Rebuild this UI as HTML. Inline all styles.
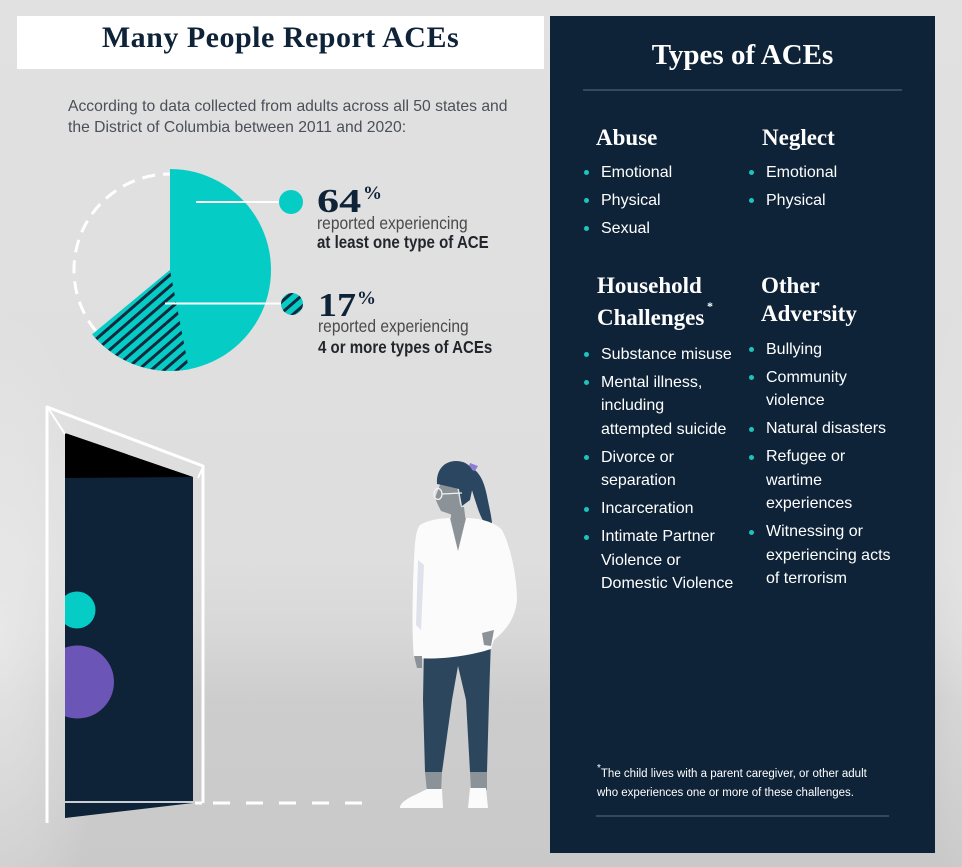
<!DOCTYPE html>
<html>
<head>
<meta charset="utf-8">
<style>
  html, body { margin:0; padding:0; }
  body {
    width:962px; height:867px; overflow:hidden; position:relative;
    background: linear-gradient(to bottom, #e1e1e1 0px, #dedede 560px, #d8d8d8 630px, #cdcdcd 700px, #c9c9c9 867px);
    font-family: "Liberation Sans", Arial, sans-serif;
  }
  .abs { position:absolute; white-space:nowrap; }
  .serif { font-family: "Liberation Serif", "Times New Roman", serif; font-weight:bold; }
  #titlebox { left:17px; top:16px; width:527px; height:53px; background:#ffffff; }
  #title { left:17px; width:527px; top:22.9px; text-align:center; font-size:30px; line-height:1; color:#0e2338; letter-spacing:0.5px; }
  #desc { left:68px; top:95.5px; font-size:15.7px; line-height:21.5px; color:#4a4f58; }
  .num { font-size:34px; line-height:1; color:#0e2338; transform-origin:0 0; }
  .pct { font-size:19px; line-height:1; color:#0e2338; }
  .rep { font-size:17.5px; line-height:1; color:#4a4a4a; transform:scaleX(0.89); transform-origin:0 0; }
  .bold { font-size:17.5px; line-height:1; color:#22262b; font-weight:bold; transform:scaleX(0.86); transform-origin:0 0; }
  #panel { left:550px; top:16px; width:385px; height:837px; background:#0f2338; }
  #ptitle { left:550px; width:385px; top:40.7px; text-align:center; font-size:29px; line-height:1; color:#ffffff; }
  .sep { position:absolute; height:2px; background:#34495f; }
  .h { font-size:23px; line-height:1; color:#ffffff; }
  ul.l { position:absolute; margin:0; padding:0; list-style:none; color:#ffffff; font-size:16px; line-height:23.5px; white-space:nowrap; }
  ul.l li { position:relative; margin:0 0 4.5px 0; padding:0; }
  ul.l li::before { content:""; position:absolute; left:-17.5px; top:9.8px; width:5px; height:5px; border-radius:50%; background:#1cc4bc; }
  #foot { left:597px; top:764.5px; font-size:11.5px; line-height:19px; color:#ffffff; }
  #foot sup { font-size:10px; vertical-align:top; line-height:1; position:relative; top:-1px; }
</style>
</head>
<body>

<!-- background texture hints (soft) -->
<svg class="abs" style="left:0;top:0" width="962" height="867">
  <defs>
    <radialGradient id="rg" cx="0" cy="640" r="1" gradientUnits="userSpaceOnUse" gradientTransform="translate(0,640) scale(110,330) translate(0,-640)">
      <stop offset="0" stop-color="#ededed" stop-opacity="0.75"/>
      <stop offset="1" stop-color="#ededed" stop-opacity="0"/>
    </radialGradient>
    <radialGradient id="rg2" cx="962" cy="600" r="1" gradientUnits="userSpaceOnUse" gradientTransform="translate(962,600) scale(40,300) translate(-962,-600)">
      <stop offset="0" stop-color="#e8e8e8" stop-opacity="0.5"/>
      <stop offset="1" stop-color="#e8e8e8" stop-opacity="0"/>
    </radialGradient>
  </defs>
  <rect x="0" y="0" width="962" height="867" fill="url(#rg)"/>
  <rect x="0" y="0" width="962" height="867" fill="url(#rg2)"/>
</svg>

<div id="titlebox" class="abs"></div>
<div id="title" class="abs serif">Many People Report ACEs</div>

<div id="desc" class="abs">According to data collected from adults across all 50 states and<br>the District of Columbia between 2011 and 2020:</div>

<!-- Pie chart -->
<svg class="abs" style="left:0;top:0" width="550" height="420">
  <defs>
    <pattern id="stripes" patternUnits="userSpaceOnUse" width="8.5" height="10" patternTransform="rotate(49)">
      <rect x="0" y="0" width="8.5" height="10" fill="#05cdc5"/>
      <rect x="3" y="0" width="3" height="10" fill="#13293f"/>
    </pattern>
  </defs>
  <path d="M96,331.2 A96,96 0 0 1 170,174" fill="none" stroke="#ffffff" stroke-width="3" stroke-dasharray="13 8"/>
  <path d="M170,270 L170,169 A101,101 0 1 1 92.2,334.4 Z" fill="#05cdc5"/>
  <path d="M170,270 L188.9,369.2 A101,101 0 0 1 92.2,334.4 Z" fill="url(#stripes)"/>
  <line x1="196" y1="202" x2="280" y2="202" stroke="#ffffff" stroke-width="2"/>
  <line x1="165" y1="303.5" x2="282" y2="303.5" stroke="#ffffff" stroke-width="2"/>
  <circle cx="291" cy="202" r="12" fill="#05cdc5"/>
  <circle cx="292" cy="304" r="11" fill="url(#stripes)"/>
</svg>

<div class="abs serif num" style="left:317px; top:184.5px; transform:scaleX(1.3);">64</div>
<div class="abs serif pct" style="left:363px; top:184.1px;">%</div>
<div class="abs rep" style="left:317px; top:215.2px;">reported experiencing</div>
<div class="abs bold" style="left:317px; top:234.2px;">at least one type of ACE</div>

<div class="abs serif num" style="left:318px; top:288.5px; transform:scaleX(1.12);">17</div>
<div class="abs serif pct" style="left:357px; top:289.1px;">%</div>
<div class="abs rep" style="left:318px; top:318.2px;">reported experiencing</div>
<div class="abs bold" style="left:318px; top:339.2px;">4 or more types of ACEs</div>

<!-- Door illustration -->
<svg class="abs" style="left:0;top:0" width="550" height="867">
  <defs>
    <clipPath id="doorclip">
      <polygon points="65,433 193,477 193,803 65,818"/>
    </clipPath>
  </defs>
  <polygon points="65,433 193,477 193,803 65,818" fill="#0e2338"/>
  <polygon points="65,433 193,477 65,478" fill="#000000"/>
  <g clip-path="url(#doorclip)">
    <circle cx="77" cy="610" r="18.5" fill="#05cdc5"/>
    <circle cx="77.5" cy="682" r="36.5" fill="#6b56b8"/>
  </g>
  <line x1="65" y1="802" x2="193" y2="802" stroke="#c8d0d6" stroke-width="2"/>
  <polyline points="47,823 47,407 203,466 203,803" fill="none" stroke="#ffffff" stroke-width="3" stroke-linejoin="round"/>
  <line x1="48" y1="408" x2="65" y2="434" stroke="#ffffff" stroke-width="2"/>
  <line x1="198" y1="478" x2="203" y2="467" stroke="#ffffff" stroke-width="2"/>
  <line x1="195" y1="803" x2="367" y2="803" stroke="#ffffff" stroke-width="3" stroke-dasharray="7 11 17 16 17 16 17 16 17 16 17 16"/>

  <!-- Person -->
  <path d="M466,466 C478,468 484,480 487,496 C490,511 493,522 492,531 C486,528 480,516 477,506 C473,494 469,480 466,470 Z" fill="#2b4660"/>
  <path d="M470,463 L478,466 L475,471 L468,469 Z" fill="#8b7dd3"/>
  <path d="M441,482 L457,486 L460,504 L463,512 L455,516 L447,513 L441,511 L438,505 L435,498 L438,490 Z" fill="#8c9398"/>
  <path d="M437,484 C436,468 446,461 456,461 C467,461 475,468 474,481 L470,500 L462,506 L459,489 L442,485 Z" fill="#2b4660"/>
  <ellipse cx="438" cy="494" rx="4" ry="5.5" fill="none" stroke="#f2f2f2" stroke-width="1.3"/>
  <line x1="442" y1="494" x2="462" y2="493" stroke="#f2f2f2" stroke-width="1.3"/>
  <path d="M451,508 L464,507 L466,523 L451,523 Z" fill="#8c9398"/>
  <path d="M424,645 L491,639 L489,700 L487,772 L470,772 L466,700 L458,666 L452,700 L442,772 L425,772 L423,700 Z" fill="#2c465e"/>
  <path d="M420,525 C430,519 444,518 452,518 L458,548 L466,518 C479,518 495,522 502,530 C510,545 517,575 517,600 C515,620 505,631 494,640 L491,649 C470,656 440,660 414,658 C412,640 412,600 414,560 C415,540 416,530 420,525 Z" fill="#fbfbfb"/>
  <path d="M450,518 L466,518 L458,551 Z" fill="#8c9398"/>
  <path d="M418,560 L424,565 L421,630 L416,625 Z" fill="#dfe2ea"/>
  <path d="M414,656 L422,656 L422,668 L417,668 Z" fill="#8c9398"/>
  <path d="M482,633 L494,630 L491,646 L484,645 Z" fill="#8c9398"/>
  <path d="M425,772 L442,772 L441,792 L427,792 Z" fill="#8c9398"/>
  <path d="M470,772 L487,772 L487,790 L471,790 Z" fill="#8c9398"/>
  <path d="M427,789 L442,789 L443,808 L400,808 C400,801 411,797 427,789 Z" fill="#fbfbfb"/>
  <path d="M470,788 L486,788 L488,808 L468,808 Z" fill="#fbfbfb"/>
</svg>

<!-- Right panel -->
<div id="panel" class="abs"></div>
<div id="ptitle" class="abs serif">Types of ACEs</div>
<div class="sep" style="left:583px; top:89px; width:319px;"></div>

<div class="abs serif h" style="left:596px; top:125.7px;">Abuse</div>
<div class="abs serif h" style="left:762px; top:125.7px;">Neglect</div>

<ul class="l" style="left:601px; top:160.7px;">
  <li>Emotional</li>
  <li>Physical</li>
  <li>Sexual</li>
</ul>
<ul class="l" style="left:766px; top:160.7px;">
  <li>Emotional</li>
  <li>Physical</li>
</ul>

<div class="abs serif h" style="left:597px; top:273.7px;">Household</div>
<div class="abs serif h" style="left:597px; top:305.7px;">Challenges</div>
<div class="abs serif" style="left:707px; top:300px; font-size:12px; line-height:1; color:#ffffff;">*</div>
<div class="abs serif h" style="left:761px; top:273.7px;">Other</div>
<div class="abs serif h" style="left:761px; top:302.4px;">Adversity</div>

<ul class="l" style="left:601px; top:342.7px;">
  <li>Substance misuse</li>
  <li>Mental illness,<br>including<br>attempted suicide</li>
  <li>Divorce or<br>separation</li>
  <li>Incarceration</li>
  <li>Intimate Partner<br>Violence or<br>Domestic Violence</li>
</ul>
<ul class="l" style="left:766px; top:337.7px;">
  <li>Bullying</li>
  <li>Community<br>violence</li>
  <li>Natural disasters</li>
  <li>Refugee or<br>wartime<br>experiences</li>
  <li>Witnessing or<br>experiencing acts<br>of terrorism</li>
</ul>

<div id="foot" class="abs"><sup>*</sup>The child lives with a parent caregiver, or other adult<br>who experiences one or more of these challenges.</div>
<div class="sep" style="left:596px; top:815px; width:293px;"></div>

</body>
</html>
